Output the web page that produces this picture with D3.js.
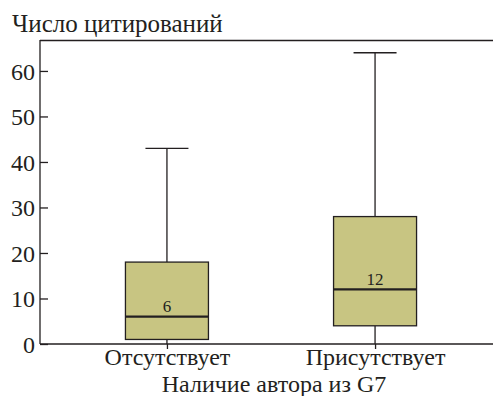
<!DOCTYPE html>
<html>
<head>
<meta charset="utf-8">
<script src="https://cdn.jsdelivr.net/npm/d3@7/dist/d3.min.js"></script>
<style>
  html, body { margin: 0; padding: 0; background: #fff; overflow: hidden; }
  svg { display: block; }
</style>
</head>
<body>
<svg id="chart" width="493" height="396"></svg>
<script>
// Box plot data: citations by presence of a G7 author
const categories = ["Отсутствует", "Присутствует"];
const whiskerLow = [0, 0];
const q1 = [1, 4];
const medians = [6, 12];
const q3 = [18, 28];
const whiskerHigh = [43, 64];
const yTicks = [0, 10, 20, 30, 40, 50, 60];
const yTitle = "Число цитирований";
const xTitle = "Наличие автора из G7";

const svg = d3.select("#chart");
const plotLeft = 40, plotRight = 493, plotTop = 40, plotBottom = 344;
const serif = "'Liberation Serif', 'Times New Roman', Tinos, 'DejaVu Serif', serif";
const labelSize = "24px";

const y = d3.scaleLinear().domain([0, 66.8]).range([plotBottom, plotTop]);
const x = d3.scalePoint().domain(categories).range([plotLeft, 502]).padding(0.61);

const ink = "#231f20";

// frame: top line and axes (open on the right)
svg.append("path")
  .attr("d", `M${plotLeft},${plotTop + 0.5}H${plotRight}`)
  .attr("fill", "none").attr("stroke", ink).attr("stroke-width", 1.3);

const yAxis = svg.append("g").attr("transform", `translate(${plotLeft},0)`)
  .call(d3.axisRight(y).tickValues(yTicks).tickSize(8).tickFormat(d3.format("d")));
yAxis.attr("font-family", null).attr("font-size", null);
yAxis.select(".domain").attr("d", `M0,${plotTop}V${plotBottom}`).attr("stroke", ink).attr("stroke-width", 1.3);
yAxis.selectAll(".tick line").attr("stroke", ink).attr("stroke-width", 1.3);
yAxis.selectAll(".tick text").attr("x", -5).attr("text-anchor", "end")
  .attr("dy", "0.35em").attr("fill", ink)
  .style("font-family", serif).style("font-size", labelSize);

const xAxis = svg.append("g").attr("transform", `translate(0,${plotBottom})`)
  .call(d3.axisBottom(x).tickSize(5));
xAxis.attr("font-family", null).attr("font-size", null);
xAxis.select(".domain").attr("d", `M${plotLeft},0H${plotRight}`).attr("fill", "none")
  .attr("stroke", ink).attr("stroke-width", 1.3);
xAxis.selectAll(".tick line").attr("stroke", ink).attr("stroke-width", 1.3);
xAxis.selectAll(".tick text").attr("y", 0).attr("dy", null)
  .attr("transform", "translate(0,21)").attr("fill", ink)
  .style("font-family", serif).style("font-size", labelSize);

// boxes
const boxW = 83, capW = 43;
const data = categories.map((c, i) => ({
  c, lo: whiskerLow[i], q1: q1[i], med: medians[i], q3: q3[i], hi: whiskerHigh[i]
}));

const g = svg.append("g");
const box = g.selectAll("g.box").data(data).join("g").attr("class", "box");

box.append("line")
  .attr("x1", d => x(d.c)).attr("x2", d => x(d.c))
  .attr("y1", d => y(d.hi)).attr("y2", d => y(d.q3))
  .attr("stroke", ink).attr("stroke-width", 1.3);
box.append("line")
  .attr("x1", d => x(d.c)).attr("x2", d => x(d.c))
  .attr("y1", d => y(d.q1)).attr("y2", d => y(d.lo))
  .attr("stroke", ink).attr("stroke-width", 1.3);
box.append("line")
  .attr("x1", d => x(d.c) - capW / 2).attr("x2", d => x(d.c) + capW / 2)
  .attr("y1", d => y(d.hi)).attr("y2", d => y(d.hi))
  .attr("stroke", ink).attr("stroke-width", 1.3);
box.append("rect")
  .attr("x", d => x(d.c) - boxW / 2).attr("width", boxW)
  .attr("y", d => y(d.q3)).attr("height", d => y(d.q1) - y(d.q3))
  .attr("fill", "#c8c582").attr("stroke", ink).attr("stroke-width", 1.3);
box.append("line")
  .attr("x1", d => x(d.c) - boxW / 2).attr("x2", d => x(d.c) + boxW / 2)
  .attr("y1", d => y(d.med)).attr("y2", d => y(d.med))
  .attr("stroke", ink).attr("stroke-width", 2.2);
box.append("text")
  .attr("x", d => x(d.c)).attr("y", d => y(d.med) - 4.5)
  .attr("text-anchor", "middle").attr("fill", ink)
  .style("font-family", serif).style("font-size", "17px")
  .text(d => d.med);

// titles
svg.append("text").attr("x", 12).attr("y", 32).attr("fill", ink)
  .style("font-family", serif).style("font-size", "25px").text(yTitle);
const xMid = (x(categories[0]) + x(categories[1])) / 2 + 3;
svg.append("text").attr("x", xMid).attr("y", 391.8).attr("text-anchor", "middle").attr("fill", ink)
  .style("font-family", serif).style("font-size", labelSize).text(xTitle);
</script>
</body>
</html>
